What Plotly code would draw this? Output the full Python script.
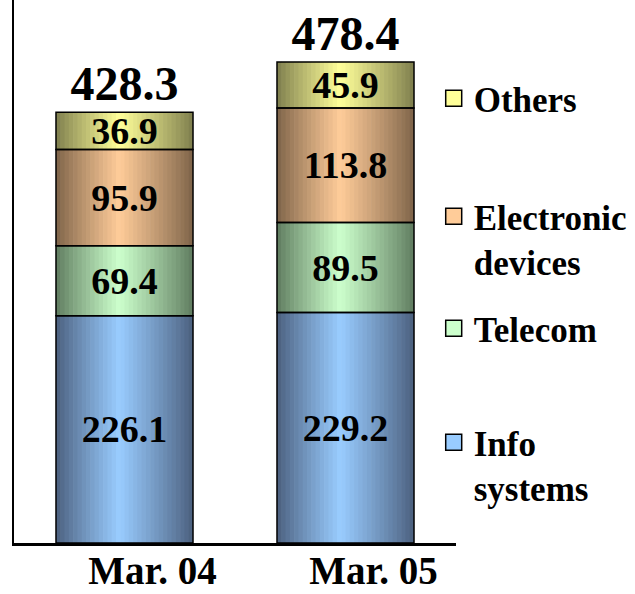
import plotly.graph_objects as go

# ---------------- data ----------------
categories = ["Mar. 04", "Mar. 05"]
series_names = ["Info<br>systems", "Telecom", "Electronic<br>devices", "Others"]
info_systems = [226.1, 229.2]
telecom = [69.4, 89.5]
electronic_devices = [95.9, 113.8]
others = [36.9, 45.9]
series_values = [info_systems, telecom, electronic_devices, others]

# ---------------- styling ----------------
FONT = "Liberation Serif"
light_colors = [(153, 204, 255), (204, 255, 204), (255, 204, 153), (255, 255, 153)]
dark_colors = [(74, 94, 124), (94, 122, 94), (124, 98, 72), (124, 124, 76)]
legend_ids = ["legend", "legend2", "legend3", "legend4"]
BAR_W = 0.62
N_SLICES = 32
PEAK = 0.46


def shade(i, t):
    if t <= PEAK:
        f = t / PEAK
    else:
        f = (1 - t) / (1 - PEAK)
    f = f ** 0.9
    lo, hi = dark_colors[i], light_colors[i]
    c = [round(lo[j] + (hi[j] - lo[j]) * f) for j in range(3)]
    return f"rgb({c[0]},{c[1]},{c[2]})"


fig = go.Figure()

# cumulative bases from data
bases = []
running = [0.0] * len(categories)
for vals in series_values:
    bases.append(list(running))
    running = [running[k] + vals[k] for k in range(len(categories))]
totals = running

# gradient slices
for i, vals in enumerate(series_values):
    sw = BAR_W / N_SLICES
    for k in range(N_SLICES):
        t = (k + 0.5) / N_SLICES
        extra = 0.003 if k < N_SLICES - 1 else 0
        fig.add_trace(go.Bar(
            x=categories, y=vals, base=bases[i],
            width=sw + extra, offset=-BAR_W / 2 + k * sw,
            marker=dict(color=shade(i, t), line=dict(width=0)),
            showlegend=False, hoverinfo="skip",
        ))

# outlines + value labels
for i, vals in enumerate(series_values):
    fig.add_trace(go.Bar(
        x=categories, y=vals, base=bases[i], width=BAR_W,
        marker=dict(color="rgba(0,0,0,0)", line=dict(color="black", width=1.5)),
        text=[f"{v:.1f}" for v in vals], textposition="inside",
        insidetextanchor="middle", constraintext="none",
        textfont=dict(family=FONT, size=38, color="black", weight="bold"),
        showlegend=False, hoverinfo="skip",
    ))

# legend swatches (legend-only entries)
for i, name in enumerate(series_names):
    fig.add_trace(go.Scatter(
        x=[None], y=[None], mode="markers", name=name,
        marker=dict(symbol="square", size=16, color=f"rgb{light_colors[i]}",
                    line=dict(color="black", width=1.5)),
        legend=legend_ids[i], hoverinfo="skip",
    ))

# totals
fig.add_trace(go.Scatter(
    x=categories, y=totals, mode="text",
    text=[f"{v:.1f}" for v in totals], textposition="top center",
    textfont=dict(family=FONT, size=48, color="black", weight="bold"),
    showlegend=False, hoverinfo="skip", cliponaxis=False,
))

legend_y = [0.3047, 0.4966, 0.6852, 0.8838]
layout_legends = {}
for i, lid in enumerate(legend_ids):
    layout_legends[lid] = dict(
        xref="container", yref="container",
        x=0.683, xanchor="left", y=legend_y[i], yanchor="top",
        valign="top", bgcolor="rgba(0,0,0,0)",
        font=dict(family=FONT, size=35, color="black", weight="bold"),
    )

fig.update_layout(
    width=635, height=594,
    margin=dict(l=14, r=179, t=0, b=51, autoexpand=False),
    paper_bgcolor="white", plot_bgcolor="white",
    barmode="overlay",
    showlegend=True,
    xaxis=dict(
        showline=True, linecolor="black", linewidth=3, ticks="",
        showgrid=False, zeroline=False, automargin=False,
        ticklabelshift=28, ticklabelstandoff=-9,
        tickfont=dict(family=FONT, size=39, color="black", weight="bold"),
    ),
    yaxis=dict(
        range=[0, 540], showline=True, linecolor="black", linewidth=2,
        showticklabels=False, ticks="", showgrid=False, zeroline=False,
        automargin=False,
    ),
    **layout_legends,
)

fig.write_html(
    "out.html",
    config={"displayModeBar": False},
    post_script="document.body.style.margin='0';document.body.style.overflow='hidden';",
)
